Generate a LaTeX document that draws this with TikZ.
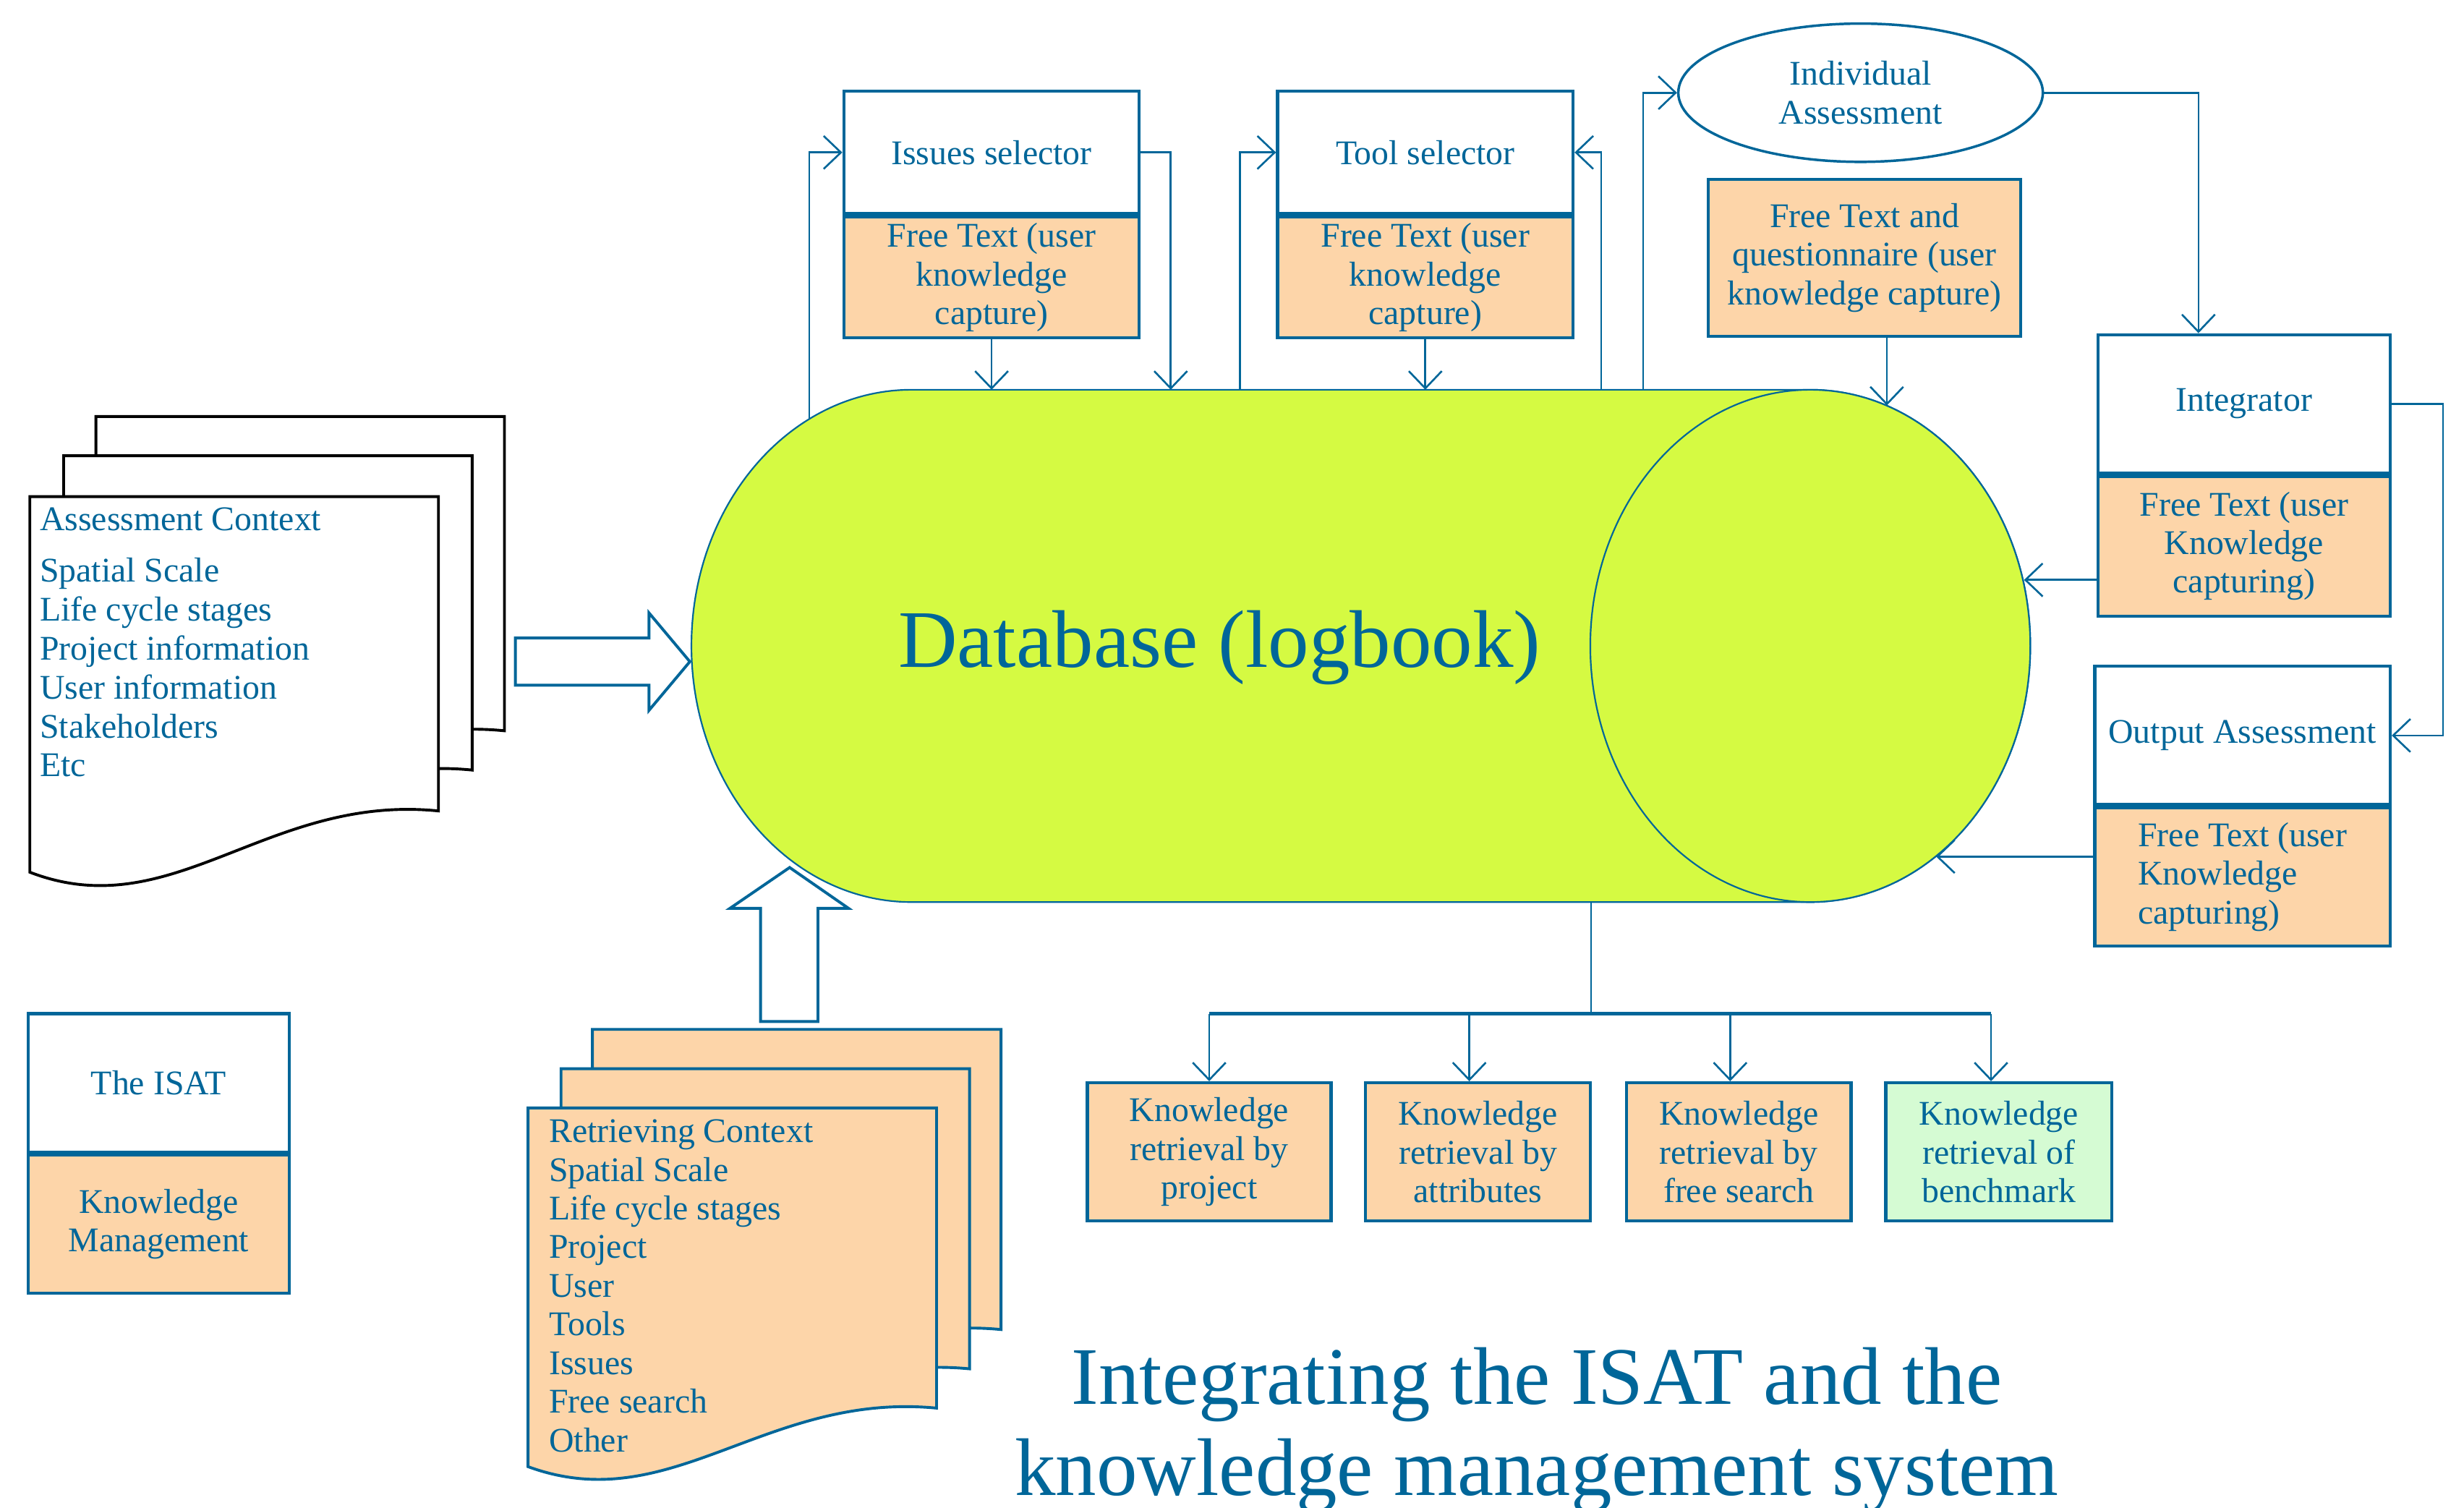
\documentclass[tikz,border=0pt]{standalone}
\usepackage{fontspec}
\setmainfont{Liberation Serif}
\usetikzlibrary{arrows.meta, positioning, shapes.geometric}
\definecolor{ink}{HTML}{006699}
\definecolor{peach}{HTML}{FDD5A9}
\definecolor{lime}{HTML}{D5FA42}
\definecolor{mint}{HTML}{D5FBD3}

\begin{document}
\begin{tikzpicture} [x = 0.5pt, y = -0.5pt, node distance = 0pt,
    every node/.style = {text = ink, font = \fontsize{11}{12.3}\selectfont},
    headbox/.style = {draw = ink, line width = 1pt, fill = white, align = center, inner sep = 0pt},
    notebox/.style = {draw = ink, line width = 1pt, fill = peach, align = center, inner sep = 0pt},
    link/.style = {draw = ink, line width = 0.6pt, -{Straight Barb[length = 5.5pt, width = 10.5pt]}},
    wire/.style = {draw = ink, line width = 0.6pt},
    blockarrow/.style = {draw = ink, line width = 0.9pt, fill = white},
    docpage/.pic = {\path [pic actions] (0,0) -- (260,0) -- (260,200)
        .. controls (151,189) and (91,274) .. (0,239) -- cycle;}]

\fill [white, use as bounding box] (0,0) rectangle (1568,959.5);

% database cylinder
\filldraw [fill = lime, draw = ink, line width = 0.5pt] (580,248) -- (1152,248)
    arc [start angle = -90, end angle = 90, x radius = 140, y radius = 163] -- (580,574)
    arc [start angle = 90, end angle = 270, x radius = 140, y radius = 163] -- cycle;
\filldraw [fill = lime, draw = ink, line width = 0.5pt] (1152,411) ellipse [x radius = 140, y radius = 163];
\node (db) [font = \fontsize{26}{30}\selectfont] at (776,412) {Database (logbook)};

\coordinate (dbIs) at (515,266.6);
\coordinate (dbIc) at (631,248);
\coordinate (dbIr) at (745,248);
\coordinate (dbTl) at (789,248);
\coordinate (dbTc) at (907,248);
\coordinate (dbTr) at (1019,248);
\coordinate (dbIa) at (1045.6,248);
\coordinate (dbQ) at (1200.7,258);
\coordinate (dbR) at (1288,369);
\coordinate (dbS) at (1232,545);
\coordinate (dbB) at (1012.5,574);
\coordinate (bus) at (1012.5,645);

% assessment context pages
\pic [draw = black, line width = 0.9pt, fill = white] at (61,265) {docpage};
\pic [draw = black, line width = 0.9pt, fill = white] at (40.5,290) {docpage};
\pic [draw = black, line width = 0.9pt, fill = white] at (19,316) {docpage};
\node (actx) [anchor = north west, align = left, inner sep = 0pt, font = \fontsize{11}{12.4}\selectfont]
    at (25,322.5) {Assessment Context\\[4pt] Spatial Scale\\Life cycle stages\\Project information\\User information\\Stakeholders\\Etc};

% retrieving context pages
\pic [draw = ink, line width = 0.9pt, fill = peach, yscale = 0.955] at (377,655) {docpage};
\pic [draw = ink, line width = 0.9pt, fill = peach, yscale = 0.955] at (357,680) {docpage};
\pic [draw = ink, line width = 0.9pt, fill = peach, yscale = 0.955] at (336,705) {docpage};
\node (rctx) [anchor = north west, align = left, inner sep = 0pt, font = \fontsize{11}{12.3}\selectfont]
    at (349,712) {Retrieving Context\\Spatial Scale\\Life cycle stages\\Project\\User\\Tools\\Issues\\Free search\\Other};

% block arrows
\draw [blockarrow] (328,406) -- (413,406) -- (413,390) -- (439,421) -- (413,452) -- (413,436) -- (328,436) -- cycle;
\draw [blockarrow] (484,650) -- (484,578) -- (464.5,578) -- (502.5,552) -- (540,578) -- (520.5,578) -- (520.5,650) -- cycle;

% selectors
\node (issues) [headbox, minimum width = 94pt, minimum height = 39pt] at (631,97) {Issues selector};
\node (issuesft) [notebox, minimum width = 94pt, minimum height = 38.5pt, below = of issues] {Free Text (user\\knowledge\\capture)};
\node (tool) [headbox, minimum width = 94pt, minimum height = 39pt] at (907,97) {Tool selector};
\node (toolft) [notebox, minimum width = 94pt, minimum height = 38.5pt, below = of tool] {Free Text (user\\knowledge\\capture)};

\node (indiv) [ellipse, draw = ink, line width = 0.8pt, fill = white, minimum width = 116pt, minimum height = 44pt,
    inner sep = 0pt, align = center] at (1184,59) {Individual\\Assessment};
\node (ftq) [notebox, minimum width = 99.5pt, minimum height = 50pt] at (1186.5,164) {Free Text and\\questionnaire (user\\knowledge capture)};

\node (integ) [headbox, minimum width = 93pt, minimum height = 44pt] at (1428,257) {Integrator};
\node (integft) [notebox, minimum width = 93pt, minimum height = 44.5pt, below = of integ] {Free Text (user\\Knowledge\\capturing)};
\node (outa) [headbox, minimum width = 94pt, minimum height = 44pt] at (1427,468) {Output Assessment};
\node (outft) [notebox, minimum width = 94pt, minimum height = 44pt, align = left, below = of outa] {Free Text (user\\Knowledge\\capturing)};

\node (isat) [headbox, minimum width = 83pt, minimum height = 44pt] at (101,689) {The ISAT};
\node (isatft) [notebox, minimum width = 83pt, minimum height = 44pt, below = of isat] {Knowledge\\Management};

% retrieval boxes
\node (retproj) [notebox, minimum width = 77.5pt, minimum height = 44pt] at (769.5,733) {Knowledge\\retrieval by\\project};
\node (retattr) [notebox, minimum width = 71.5pt, minimum height = 44pt, right = 10pt of retproj] {Knowledge\\retrieval by\\attributes};
\node (retfree) [notebox, minimum width = 71.5pt, minimum height = 44pt, right = 10.5pt of retattr] {Knowledge\\retrieval by\\free search};
\node (retbench) [notebox, fill = mint, minimum width = 72pt, minimum height = 44pt, right = 10pt of retfree] {Knowledge\\retrieval of\\benchmark};

\node (title) [font = \fontsize{26}{29}\selectfont, align = center] at (978,910) {Integrating the ISAT and the\\knowledge management system};

% connectors
\draw [link] (dbIs) |- (issues.west);
\draw [link] (issues.east) -| (dbIr);
\draw [link] (issuesft) -- (dbIc);
\draw [link] (dbTl) |- (tool.west);
\draw [link] (toolft) -- (dbTc);
\draw [link] (dbTr) |- (tool.east);
\draw [link] (dbIa) |- (indiv.west);
\draw [link] (indiv.east) -| ([xshift = -14.5pt]integ.north);
\draw [link] (ftq.south -| dbQ) -- (dbQ);
\draw [link] (integ.east) -- ++(32.6,0) |- (outa.east);
\draw [link] (integft.west |- dbR) -- (dbR);
\draw [link] (outft.west |- dbS) -- (dbS);

\draw [wire] (dbB) -- (bus);
\draw [wire, line width = 1pt] (bus -| retproj.north) -- ([xshift = -2.5pt]bus -| retbench.north);
\draw [link] (bus -| retproj.north) -- (retproj.north);
\draw [link] ([xshift = -2.75pt]bus -| retattr.north) -- ([xshift = -2.75pt]retattr.north);
\draw [link] ([xshift = -2.75pt]bus -| retfree.north) -- ([xshift = -2.75pt]retfree.north);
\draw [link] ([xshift = -2.5pt]bus -| retbench.north) -- ([xshift = -2.5pt]retbench.north);

\end{tikzpicture}
\end{document}
